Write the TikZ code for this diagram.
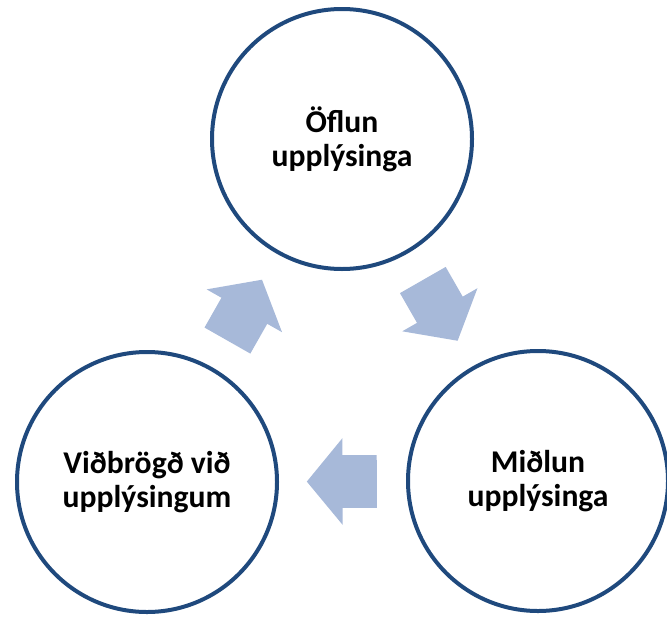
\documentclass[tikz,border=0pt]{standalone}
\usepackage{fontspec}
\setmainfont{Carlito}
\usetikzlibrary{shapes.arrows}
\definecolor{ringblue}{HTML}{1F497D}
\definecolor{flowblue}{HTML}{A7B9D9}

\begin{document}
\begin{tikzpicture}[ring/.style={circle,draw=ringblue,line width=0.08cm,minimum size=5.2cm,inner sep=0pt,align=center,font=\fontsize{18}{19.5}\selectfont\bfseries},
flow/.style={single arrow,fill=flowblue,inner xsep=0pt,inner ysep=0.52cm,minimum height=1.4cm,single arrow head extend=0.34cm,single arrow tip angle=101,sloped,allow upside down,pos=0.42}]
\useasboundingbox (0,0) rectangle (13.34,12.34);
  % the three stages of the cycle
\node[ring] (oflun) at (6.84,9.56) {Öflun\\upplýsinga};
\node[ring] (midlun) at (10.76,2.72) {Miðlun\\upplýsinga};
\node[ring] (vidbrogd) at (2.94,2.70) {Viðbrögð við\\upplýsingum};

  % block arrows half way between the rings
\path (oflun) -- node[flow] (flowA) {} (midlun);
\path (midlun) -- node[flow] (flowB) {} (vidbrogd);
\path (vidbrogd) -- node[flow] (flowC) {} (oflun);
\end{tikzpicture}
\end{document}
